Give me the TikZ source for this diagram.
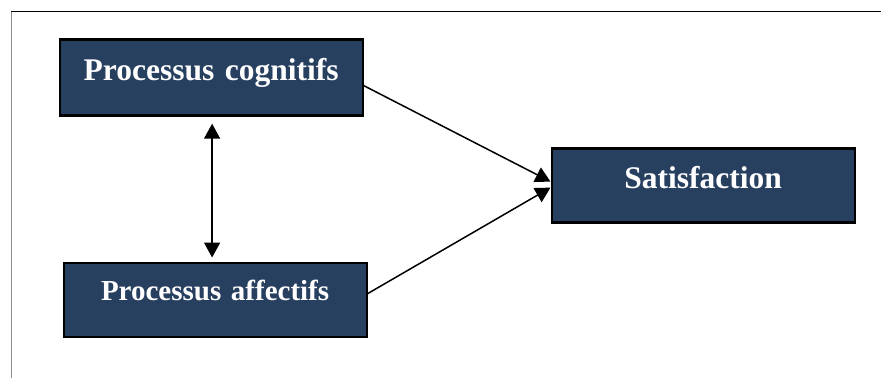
\documentclass[tikz,border=0pt]{standalone}
\usepackage{fontspec}
\setmainfont{Liberation Serif}
\usetikzlibrary{arrows.meta}
\definecolor{boxnavy}{HTML}{28405F}
\definecolor{framegray}{HTML}{8A8A8A}
\tikzset{
  procbox/.style={draw=black, line width=2.2pt, fill=boxnavy, text=white,
    font=\bfseries, anchor=north west, inner xsep=0pt, inner ysep=0pt,
    minimum width=303pt, text width=303pt, align=center},
  link/.style={line width=1.5pt, -{Triangle[length=15pt,width=16pt]}},
  bothway/.style={line width=1.6pt, {Triangle[length=15pt,width=16pt]}-{Triangle[length=15pt,width=16pt]}}
}
\begin{document}
\begin{tikzpicture}[x=1pt,y=1pt]
  \useasboundingbox (0,0) rectangle (881,378);
  % page frame: black top rule, grey left rule
  \draw[line width=1pt, black] (11,366) -- (881,366);
  \draw[line width=1pt, framegray] (11,366) -- (11,0);

  \node[procbox, text height=41pt, text depth=35pt,
        font=\bfseries\fontsize{31.5}{32}\selectfont] (cog) at (58.5,339.5) {Processus cognitifs};
  \node[procbox, text height=38pt, text depth=36pt,
        font=\bfseries\fontsize{29}{30}\selectfont] (aff) at (62.5,116.5) {Processus affectifs};
  \node[procbox, text height=40pt, text depth=34pt,
        font=\bfseries\fontsize{31.5}{32}\selectfont] (sat) at (550.5,230.5) {Satisfaction};

  \coordinate (vtop) at ([xshift=1pt,yshift=-7pt]cog.south);
  \path (cog.south |- aff.north) coordinate (vbase);
  \coordinate (vbot) at ([xshift=1pt,yshift=4pt]vbase);
  \draw[bothway] (vtop) -- (vbot);

  \draw[link] ([yshift=-8pt]cog.east) -- ([yshift=4pt]sat.west);
  \draw[link] ([yshift=6pt]aff.east) -- ([yshift=-2pt]sat.west);
\end{tikzpicture}
\end{document}
